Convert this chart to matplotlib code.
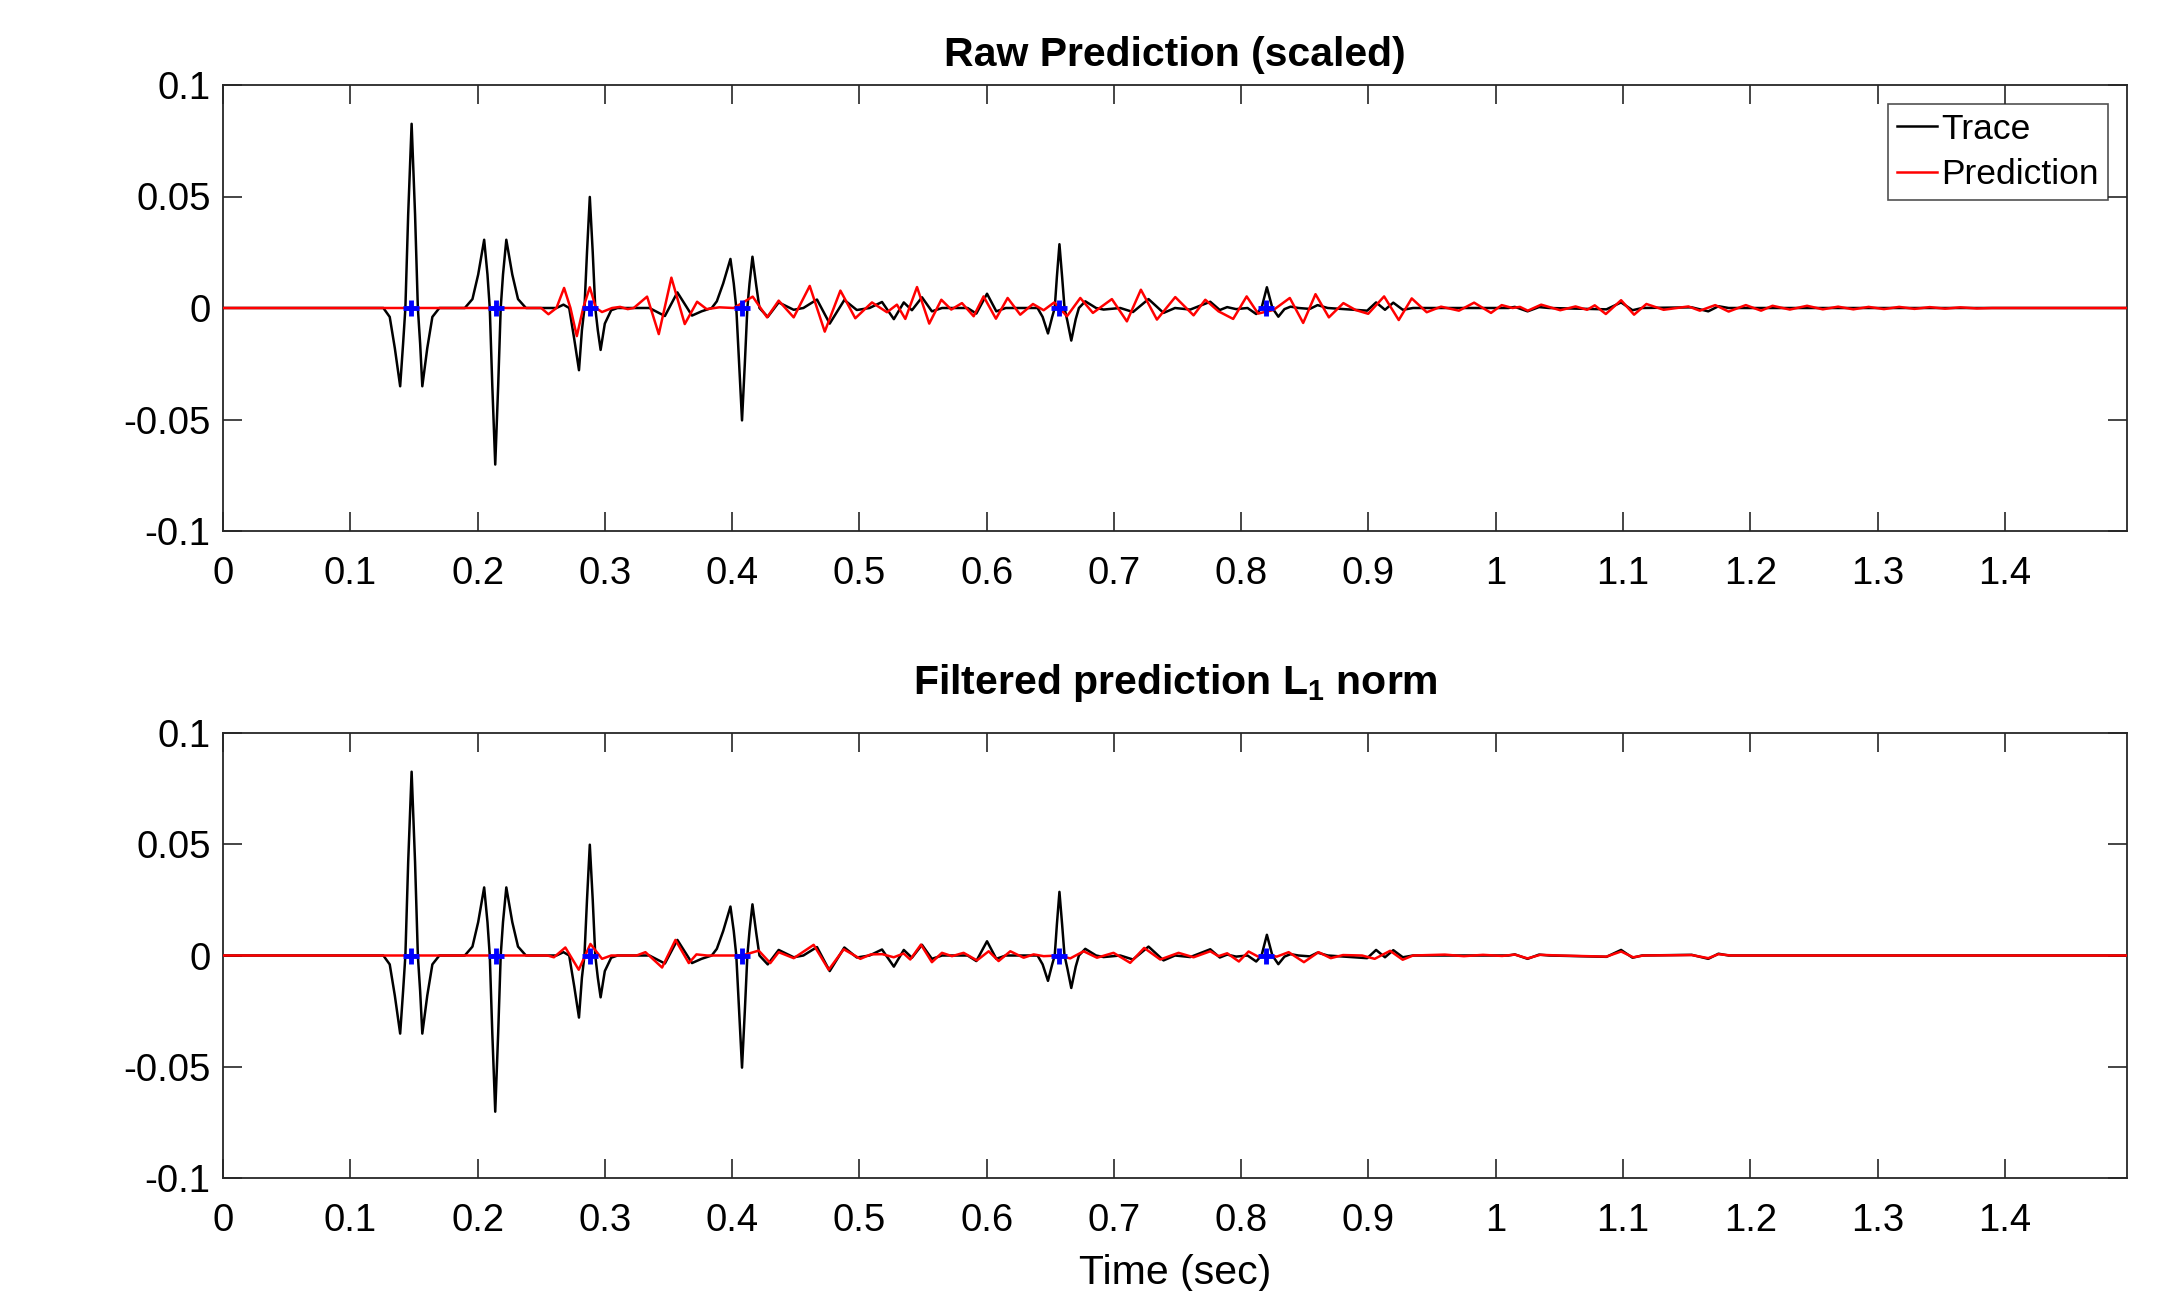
import matplotlib
matplotlib.use("Agg")
import matplotlib.pyplot as plt

# ---------------- data ----------------
trace_t = [0.000, 0.126, 0.131, 0.135, 0.1392, 0.1415, 0.1433, 0.1455, 0.1482, 0.1509, 0.1531,
           0.1549, 0.1566, 0.1605, 0.1645, 0.170, 0.190, 0.196, 0.2005, 0.2052, 0.2078, 0.2096,
           0.2116, 0.2139, 0.2162, 0.2182, 0.2200, 0.2226, 0.2273, 0.2318, 0.238, 0.262, 0.2675,
           0.2720, 0.2760, 0.2797, 0.2820, 0.2840, 0.2860, 0.2882, 0.2905, 0.2925, 0.2945, 0.2967,
           0.3000, 0.3050, 0.3100, 0.335, 0.3472, 0.3570, 0.3685, 0.3760, 0.3840, 0.3880, 0.3930,
           0.3987, 0.4013, 0.4033, 0.4055, 0.4078, 0.4100, 0.4120, 0.4137, 0.4160, 0.4190, 0.4215,
           0.4280, 0.4366, 0.4484, 0.4560, 0.4667, 0.4767, 0.4882, 0.4980, 0.5080, 0.5178, 0.5271,
           0.5349, 0.5413, 0.5492, 0.5570, 0.5650, 0.5850, 0.5919, 0.6003, 0.6076, 0.6150, 0.6400,
           0.6440, 0.6482, 0.6515, 0.6535, 0.6552, 0.6572, 0.6593, 0.6612, 0.6635, 0.6665, 0.6700,
           0.6725, 0.6775, 0.6860, 0.6919, 0.7050, 0.7150, 0.7272, 0.7390, 0.7480, 0.7600, 0.7757,
           0.7832, 0.7890, 0.7960, 0.8050, 0.8118, 0.8160, 0.8202, 0.8245, 0.8292, 0.8340, 0.8388,
           0.8450, 0.8540, 0.8600, 0.8680, 0.8990, 0.9060, 0.9130, 0.9195, 0.9270, 0.9350, 1.0100,
           1.0150, 1.0250, 1.0340, 1.0420, 1.0870, 1.0985, 1.1075, 1.1150, 1.1540, 1.1670, 1.1750,
           1.1830, 1.496]
trace_a = [0.0, 0.0, -0.004, -0.018, -0.0351, -0.016, 0.0, 0.042, 0.0826, 0.042, 0.0,
           -0.016, -0.0351, -0.018, -0.004, 0.0, 0.0, 0.004, 0.015, 0.0306, 0.015, 0.0,
           -0.035, -0.0702, -0.035, 0.0, 0.015, 0.0306, 0.015, 0.004, 0.0, 0.0, 0.0015,
           0.0, -0.014, -0.0279, -0.010, 0.0, 0.025, 0.0498, 0.025, 0.0, -0.010, -0.0188,
           -0.007, -0.001, 0.0, 0.0, -0.0036, 0.0070, -0.0034, -0.0015, 0.0, 0.003, 0.011,
           0.0220, 0.011, 0.0, -0.025, -0.0504, -0.025, 0.0, 0.011, 0.0230, 0.010, 0.0,
           -0.0040, 0.0025, -0.0008, 0.0, 0.0038, -0.0070, 0.0036, -0.0009, 0.0, 0.0027, -0.0050,
           0.0025, -0.0010, 0.0048, -0.0015, 0.0, 0.0, -0.0025, 0.0064, -0.0015, 0.0, 0.0,
           -0.004, -0.0114, -0.004, 0.0, 0.014, 0.0286, 0.014, 0.0, -0.006, -0.0146, -0.005,
           0.0, 0.0030, 0.0, -0.0007, 0.0, -0.0018, 0.0040, -0.0022, 0.0, -0.0007, 0.0028,
           -0.0009, 0.0004, -0.0005, 0.0, -0.0027, 0.0, 0.0093, 0.0, -0.0039, -0.0005, 0.0006,
           0.0, -0.0004, 0.0013, 0.0, -0.0012, 0.0025, -0.0008, 0.0024, -0.0008, 0.0, 0.0,
           0.0005, -0.0015, 0.0004, 0.0, -0.0006, 0.0025, -0.0010, 0.0, 0.0003, -0.0015, 0.0008,
           0.0, 0.0]

pred_t = [0.000, 0.250, 0.2557, 0.2620, 0.2680, 0.2730, 0.2780, 0.2830, 0.2882, 0.2930, 0.2978,
          0.3057, 0.3120, 0.3180, 0.3227, 0.3332, 0.3424, 0.3523, 0.3628, 0.3725, 0.3800, 0.3900,
          0.4013, 0.4162, 0.4275, 0.4366, 0.4484, 0.4610, 0.4728, 0.4851, 0.4968, 0.5099, 0.5217,
          0.5295, 0.5361, 0.5453, 0.5549, 0.5644, 0.5722, 0.5806, 0.5898, 0.5976, 0.6073, 0.6165,
          0.6264, 0.6364, 0.6448, 0.6531, 0.6631, 0.6736, 0.6835, 0.6984, 0.7102, 0.7212, 0.7338,
          0.7482, 0.7626, 0.7718, 0.7822, 0.7937, 0.8043, 0.8133, 0.8253, 0.8382, 0.8487, 0.8584,
          0.8689, 0.8803, 0.8899, 0.8998, 0.9123, 0.9238, 0.9340, 0.9458, 0.9570, 0.9711, 0.9830,
          0.9963, 1.0047, 1.0132, 1.0190, 1.0252, 1.0357, 1.0507, 1.0627, 1.0718, 1.0778, 1.0865,
          1.0985, 1.1087, 1.1184, 1.1319, 1.1514, 1.1604, 1.1725, 1.1830, 1.1965, 1.2085, 1.2175,
          1.2311, 1.2446, 1.2570, 1.2690, 1.2810, 1.2930, 1.3050, 1.3170, 1.3290, 1.3410, 1.3530,
          1.3650, 1.3780, 1.3900, 1.496]
pred_a = [0.0, 0.0, -0.0028, 0.0, 0.0090, 0.0, -0.0126, 0.0, 0.0093, 0.0, -0.0018,
          0.0, 0.0005, -0.0005, 0.0, 0.0051, -0.0117, 0.0136, -0.0072, 0.0028, -0.0005, 0.0003,
          0.0, 0.0051, -0.0042, 0.0033, -0.0042, 0.0099, -0.0106, 0.0078, -0.0046, 0.0025, -0.0019,
          0.0015, -0.0049, 0.0094, -0.0070, 0.0037, -0.0007, 0.0022, -0.0037, 0.0052, -0.0048, 0.0045,
          -0.0030, 0.0018, -0.0010, 0.0025, -0.0037, 0.0045, -0.0022, 0.0040, -0.0060, 0.0082, -0.0052,
          0.0049, -0.0033, 0.0037, -0.0015, -0.0049, 0.0052, -0.0025, -0.0009, 0.0045, -0.0067, 0.0062,
          -0.0042, 0.0022, -0.0009, -0.0026, 0.0052, -0.0054, 0.0043, -0.0019, 0.0006, -0.0012, 0.0024,
          -0.0022, 0.0013, 0.0, 0.0005, -0.0012, 0.0015, -0.0010, 0.0007, -0.0008, 0.0012, -0.0027,
          0.0035, -0.0030, 0.0018, -0.0008, 0.0007, -0.0012, 0.0013, -0.0016, 0.0013, -0.0012, 0.0010,
          -0.0007, 0.0010, -0.0006, 0.0006, -0.0006, 0.0005, -0.0005, 0.0005, -0.0004, 0.0004, -0.0003,
          0.0003, -0.0002, 0.0, 0.0]

filt_t = [0.000, 0.255, 0.2600, 0.2690, 0.2795, 0.2887, 0.2978, 0.3050, 0.3250, 0.3319, 0.3450,
          0.3555, 0.3660, 0.3720, 0.3803, 0.4080, 0.4209, 0.4300, 0.4366, 0.4484, 0.4641, 0.4759,
          0.4877, 0.5008, 0.5090, 0.5180, 0.5270, 0.5348, 0.5400, 0.5484, 0.5570, 0.5649, 0.5728,
          0.5819, 0.5924, 0.6016, 0.6094, 0.6186, 0.6291, 0.6369, 0.6448, 0.6560, 0.6657, 0.6762,
          0.6867, 0.6997, 0.7128, 0.7238, 0.7364, 0.7508, 0.7626, 0.7757, 0.7822, 0.7890, 0.7982,
          0.8058, 0.8133, 0.8200, 0.8280, 0.8373, 0.8493, 0.8608, 0.8704, 0.8800, 0.8950, 0.9049,
          0.9170, 0.9269, 0.9350, 0.9600, 0.9750, 0.9900, 1.0050, 1.0150, 1.0250, 1.0350, 1.0500,
          1.0870, 1.0985, 1.1080, 1.1160, 1.1540, 1.1670, 1.1750, 1.1850, 1.496]
filt_a = [0.0, 0.0, -0.0008, 0.0036, -0.0064, 0.0052, -0.0015, 0.0, 0.0, 0.0015, -0.0054,
          0.0070, -0.0034, 0.0005, 0.0, 0.0, 0.0022, -0.0034, 0.0015, -0.0012, 0.0048, -0.0064,
          0.0028, -0.0015, 0.0005, 0.0006, -0.0008, 0.0009, -0.0018, 0.0049, -0.0030, 0.0012, -0.0003,
          0.0012, -0.0022, 0.0019, -0.0025, 0.0019, -0.0010, 0.0005, -0.0003, 0.0, -0.0013, 0.0019,
          -0.0010, 0.0012, -0.0033, 0.0034, -0.0018, 0.0012, -0.0008, 0.0019, -0.0003, 0.0010, -0.0027,
          0.0018, -0.0005, 0.0003, -0.0005, 0.0015, -0.0030, 0.0015, -0.0012, 0.0002, 0.0, -0.0015,
          0.0021, -0.0019, 0.0, 0.0004, -0.0003, 0.0003, -0.0002, 0.0004, -0.0013, 0.0003, 0.0,
          -0.0005, 0.0018, -0.0008, 0.0, 0.0002, -0.0012, 0.0006, 0.0, 0.0]

spike_t = [0.148, 0.2144, 0.2885, 0.4076, 0.6566, 0.8195]
spike_a = [0.0, 0.0, 0.0, 0.0, 0.0, 0.0]

xticks = [0, 0.1, 0.2, 0.3, 0.4, 0.5, 0.6, 0.7, 0.8, 0.9, 1.0, 1.1, 1.2, 1.3, 1.4]
xtick_labels = ['0', '0.1', '0.2', '0.3', '0.4', '0.5', '0.6', '0.7', '0.8', '0.9',
                '1', '1.1', '1.2', '1.3', '1.4']
yticks = [-0.1, -0.05, 0, 0.05, 0.1]
ytick_labels = ['-0.1', '-0.05', '0', '0.05', '0.1']

titles = ['Raw Prediction (scaled)', r'Filtered prediction L$_\mathbf{1}$ norm']
xlabel = 'Time (sec)'
legend_labels = ['Trace', 'Prediction']

# ---------------- styling ----------------
plt.rcParams['font.family'] = ['Liberation Sans', 'DejaVu Sans']
plt.rcParams['mathtext.fontset'] = 'custom'
plt.rcParams['mathtext.rm'] = 'Liberation Sans'
plt.rcParams['mathtext.bf'] = 'Liberation Sans:bold'

AX_COLOR = '#262626'
W, H = 2161, 1291
fig = plt.figure(figsize=(W / 100, H / 100), dpi=100)

left = 223 / W
width = (2127 - 223) / W
ax_top = fig.add_axes([left, 1 - 531 / H, width, (531 - 85) / H])
ax_bot = fig.add_axes([left, 1 - 1178 / H, width, (1178 - 733) / H])

for ax, red_t, red_a, title, tpad in [(ax_top, pred_t, pred_a, titles[0], 14),
                                      (ax_bot, filt_t, filt_a, titles[1], 28)]:
    ax.plot(trace_t, trace_a, color='black', lw=1.8, label=legend_labels[0], zorder=2,
            solid_joinstyle='round')
    ax.plot(red_t, red_a, color='red', lw=1.8, label=legend_labels[1], zorder=3,
            solid_joinstyle='round')
    ax.plot(spike_t, spike_a, linestyle='none', marker='+', color='blue',
            markersize=11, markeredgewidth=3.5, zorder=4)
    ax.set_xlim(0, 1.496)
    ax.set_ylim(-0.1, 0.1)
    ax.set_xticks(xticks)
    ax.set_xticklabels(xtick_labels)
    ax.set_yticks(yticks)
    ax.set_yticklabels(ytick_labels)
    ax.tick_params(direction='in', length=13.5, width=1.2, colors=AX_COLOR,
                   top=True, right=True, labelsize=27.5, labelcolor='black')
    ax.tick_params(axis='x', pad=18)
    ax.tick_params(axis='y', pad=9)
    for sp in ax.spines.values():
        sp.set_color(AX_COLOR)
        sp.set_linewidth(1.3)
    ax.set_title(title, fontsize=29.5, fontweight='bold', pad=tpad)

leg = ax_top.legend(loc='upper right', bbox_to_anchor=(0.990, 0.9574), borderaxespad=0,
                    fontsize=25.5, frameon=True, fancybox=False, handlelength=1.15,
                    handletextpad=0.12, borderpad=0.25, labelspacing=0.35)
leg.get_frame().set_edgecolor(AX_COLOR)
leg.get_frame().set_linewidth(1.2)

ax_bot.set_xlabel(xlabel, fontsize=29.5, labelpad=11)

fig.savefig('out.png', dpi=100)
